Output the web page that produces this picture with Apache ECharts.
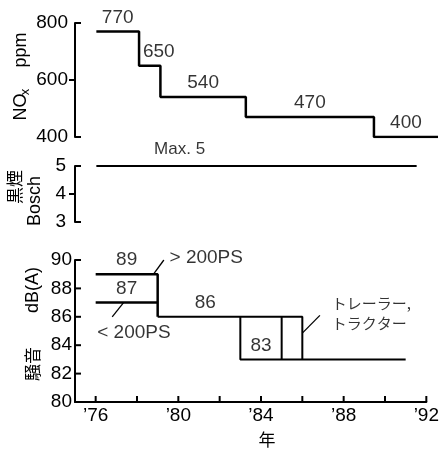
<!DOCTYPE html>
<html><head><meta charset="utf-8">
<script src="https://cdn.jsdelivr.net/npm/echarts@6/dist/echarts.min.js"></script>
<style>html,body{margin:0;padding:0;background:#fff}#c{width:442px;height:451px}</style>
</head><body><div id="c"></div>
<script>
// ---- data ----
const noxYears = [76, 78, 79, 83, 89, 92];
const noxPpm = [770, 650, 540, 470, 400, 400];
const smokeYears = [76, 91];
const smokeBosch = [5, 5];
const over200Years = [76, 79, 79];
const over200Db = [89, 89, 86];
const under200Years = [76, 79];
const under200Db = [87, 87];
const allYears = [79, 86, 86];
const allDb = [86, 86, 83];
const tractorYears = [83, 83, 91];
const tractorDb = [86, 83, 83];
const dividerYears = [85, 85];
const dividerDb = [86, 83];
const noiseLabelYears = [77.5, 77.5, 81.3, 84];
const noiseLabelDb = [89, 87, 86, 83];
const xTickYears = [76, 78, 80, 82, 84, 86, 88, 90, 92];
const xLabelYears = [76, 80, 84, 88, 92];
const noxTicks = [400, 600, 800];
const smokeTicks = [3, 4, 5];
const noiseTicks = [80, 82, 84, 86, 88, 90];

const X_MIN = 75, X_MAX = 92;
const FONT = '"Liberation Sans",Arial,sans-serif';
const JP = '"Noto Sans CJK JP",sans-serif';
const BLK = '#000';
const zip = (a, b) => a.map((v, i) => [v, b[i]]);

const noxLabelData = noxPpm.slice(0, -1).map((v, i) => {
  const item = { value: [(noxYears[i] + noxYears[i + 1]) / 2, v], name: String(v) };
  if (i === 1) item.label = { offset: [9, 0] };
  return item;
});

const chart = echarts.init(document.getElementById('c'));

const xHidden = gi => ({ type: 'value', gridIndex: gi, min: X_MIN, max: X_MAX, show: false, splitLine: { show: false } });
const yAx = (gi, ticks, margin) => ({
  type: 'value', gridIndex: gi, min: ticks[0], max: ticks[ticks.length - 1], interval: ticks[1] - ticks[0], position: 'left',
  axisLine: { show: true, lineStyle: { color: BLK, width: 2 } },
  axisTick: { show: false },
  axisLabel: { color: '#000', fontFamily: FONT, fontSize: 19, margin: margin },
  splitLine: { show: false }
});

const lineS = (xi, yi, data, w, step) => ({
  type: 'line', xAxisIndex: xi, yAxisIndex: yi, data: data, symbol: 'none', silent: true, step: step || false,
  lineStyle: { color: BLK, width: w }
});
const labelS = (xi, yi, data, extra) => ({
  type: 'scatter', xAxisIndex: xi, yAxisIndex: yi, data: data, symbolSize: 1, silent: true, clip: false,
  itemStyle: { color: 'rgba(0,0,0,0)' },
  label: Object.assign({ show: true, position: 'top', distance: 4, formatter: p => p.name, color: '#000', fontFamily: FONT, fontSize: 19 }, extra || {})
});
// axis tick marks placed through the axes' own scales
const tickS = (xi, yi, points, dx, dy) => ({
  type: 'custom', xAxisIndex: xi, yAxisIndex: yi, data: points, silent: true, clip: false, z: 5,
  renderItem: (params, api) => {
    const p = api.coord([api.value(0), api.value(1)]);
    return { type: 'line', shape: { x1: p[0], y1: p[1], x2: p[0] + dx, y2: p[1] + dy }, style: { stroke: BLK, lineWidth: 2 } };
  }
});

chart.setOption({
  backgroundColor: '#fff',
  animation: false,
  grid: [
    { left: 75, right: 4, top: 23, bottom: 314 },
    { left: 75, right: 4, top: 166, bottom: 229 },
    { left: 75, right: 4, top: 260, bottom: 49 }
  ],
  xAxis: [
    xHidden(0), xHidden(1),
    {
      type: 'value', gridIndex: 2, min: X_MIN, max: X_MAX, position: 'bottom',
      axisLine: { show: true, lineStyle: { color: BLK, width: 2 } },
      axisTick: { show: false },
      axisLabel: { customValues: xLabelYears, formatter: v => '\u2019' + v, color: '#000', fontFamily: FONT, fontSize: 19, margin: 4 },
      splitLine: { show: false }
    }
  ],
  yAxis: [
    yAx(0, noxTicks, 7),
    yAx(1, smokeTicks, 9),
    yAx(2, noiseTicks, 3)
  ],
  series: [
    lineS(0, 0, zip(noxYears, noxPpm), 2.5, 'end'),
    labelS(0, 0, noxLabelData),
    lineS(1, 1, zip(smokeYears, smokeBosch), 2),
    labelS(1, 1, [{ value: [79.9, 5], name: 'Max. 5' }], { distance: 8, fontSize: 17 }),
    lineS(2, 2, zip(over200Years, over200Db), 2.5),
    lineS(2, 2, zip(under200Years, under200Db), 2.5),
    lineS(2, 2, zip(allYears, allDb), 2),
    lineS(2, 2, zip(tractorYears, tractorDb), 2),
    lineS(2, 2, zip(dividerYears, dividerDb), 2),
    labelS(2, 2, noiseLabelYears.map((x, i) => ({ value: [x, noiseLabelDb[i]], name: String(noiseLabelDb[i]) }))),
    // leader lines
    lineS(2, 2, [[78.8, 89], [79.3, 90]], 1.3),
    lineS(2, 2, [[76.8, 86.0], [77.35, 87.0]], 1.3),
    lineS(2, 2, [[86.0, 84.85], [86.85, 86.1]], 1.3),
    labelS(2, 2, [
      { value: [79.55, 90.15], name: '> 200PS' },
      { value: [76.05, 84.85], name: '< 200PS' }
    ], { position: 'right', distance: 0 }),
    labelS(2, 2, [
      { value: [87.4, 86.97], name: 'トレーラー,' },
      { value: [87.4, 85.56], name: 'トラクター' }
    ], { position: 'right', distance: 0, fontFamily: JP, fontSize: 15 }),
    // ticks
    tickS(2, 2, xTickYears.map(v => [v, noiseTicks[0]]), 0, -6),
    tickS(2, 2, noiseTicks.map(v => [X_MIN, v]), 6, 0),
    tickS(0, 0, [[X_MIN, noxTicks[1]]], -6, 0),
    tickS(0, 0, [[X_MIN, noxTicks[0]], [X_MIN, noxTicks[2]]], 6, 0),
    tickS(1, 1, [[X_MIN, smokeTicks[1]]], -6, 0),
    tickS(1, 1, [[X_MIN, smokeTicks[0]], [X_MIN, smokeTicks[2]]], 6, 0)
  ],
  graphic: [
    { type: 'text', x: 21, y: 107, rotation: Math.PI / 2,
      style: { text: 'NO', align: 'center', verticalAlign: 'middle', fontFamily: FONT, fontSize: 18, fill: '#000' } },
    { type: 'text', x: 25, y: 92, rotation: Math.PI / 2,
      style: { text: 'x', align: 'center', verticalAlign: 'middle', fontFamily: FONT, fontSize: 13, fill: '#000' } },
    { type: 'text', x: 21, y: 50, rotation: Math.PI / 2,
      style: { text: 'ppm', align: 'center', verticalAlign: 'middle', fontFamily: FONT, fontSize: 18, fill: '#000' } },
    { type: 'text', x: 15, y: 187, rotation: Math.PI / 2,
      style: { text: '黒煙', align: 'center', verticalAlign: 'middle', fontFamily: JP, fontSize: 17, fill: '#000' } },
    { type: 'text', x: 35, y: 201, rotation: Math.PI / 2,
      style: { text: 'Bosch', align: 'center', verticalAlign: 'middle', fontFamily: FONT, fontSize: 18, fill: '#000' } },
    { type: 'text', x: 33, y: 290, rotation: Math.PI / 2,
      style: { text: 'dB(A)', align: 'center', verticalAlign: 'middle', fontFamily: FONT, fontSize: 18, fill: '#000' } },
    { type: 'text', x: 33, y: 364, rotation: Math.PI / 2,
      style: { text: '騒音', align: 'center', verticalAlign: 'middle', fontFamily: JP, fontSize: 17, fill: '#000' } },
    { type: 'text', x: 267, y: 440,
      style: { text: '年', align: 'center', verticalAlign: 'middle', fontFamily: JP, fontSize: 17, fill: '#000' } }
  ]
});
</script></body></html>
